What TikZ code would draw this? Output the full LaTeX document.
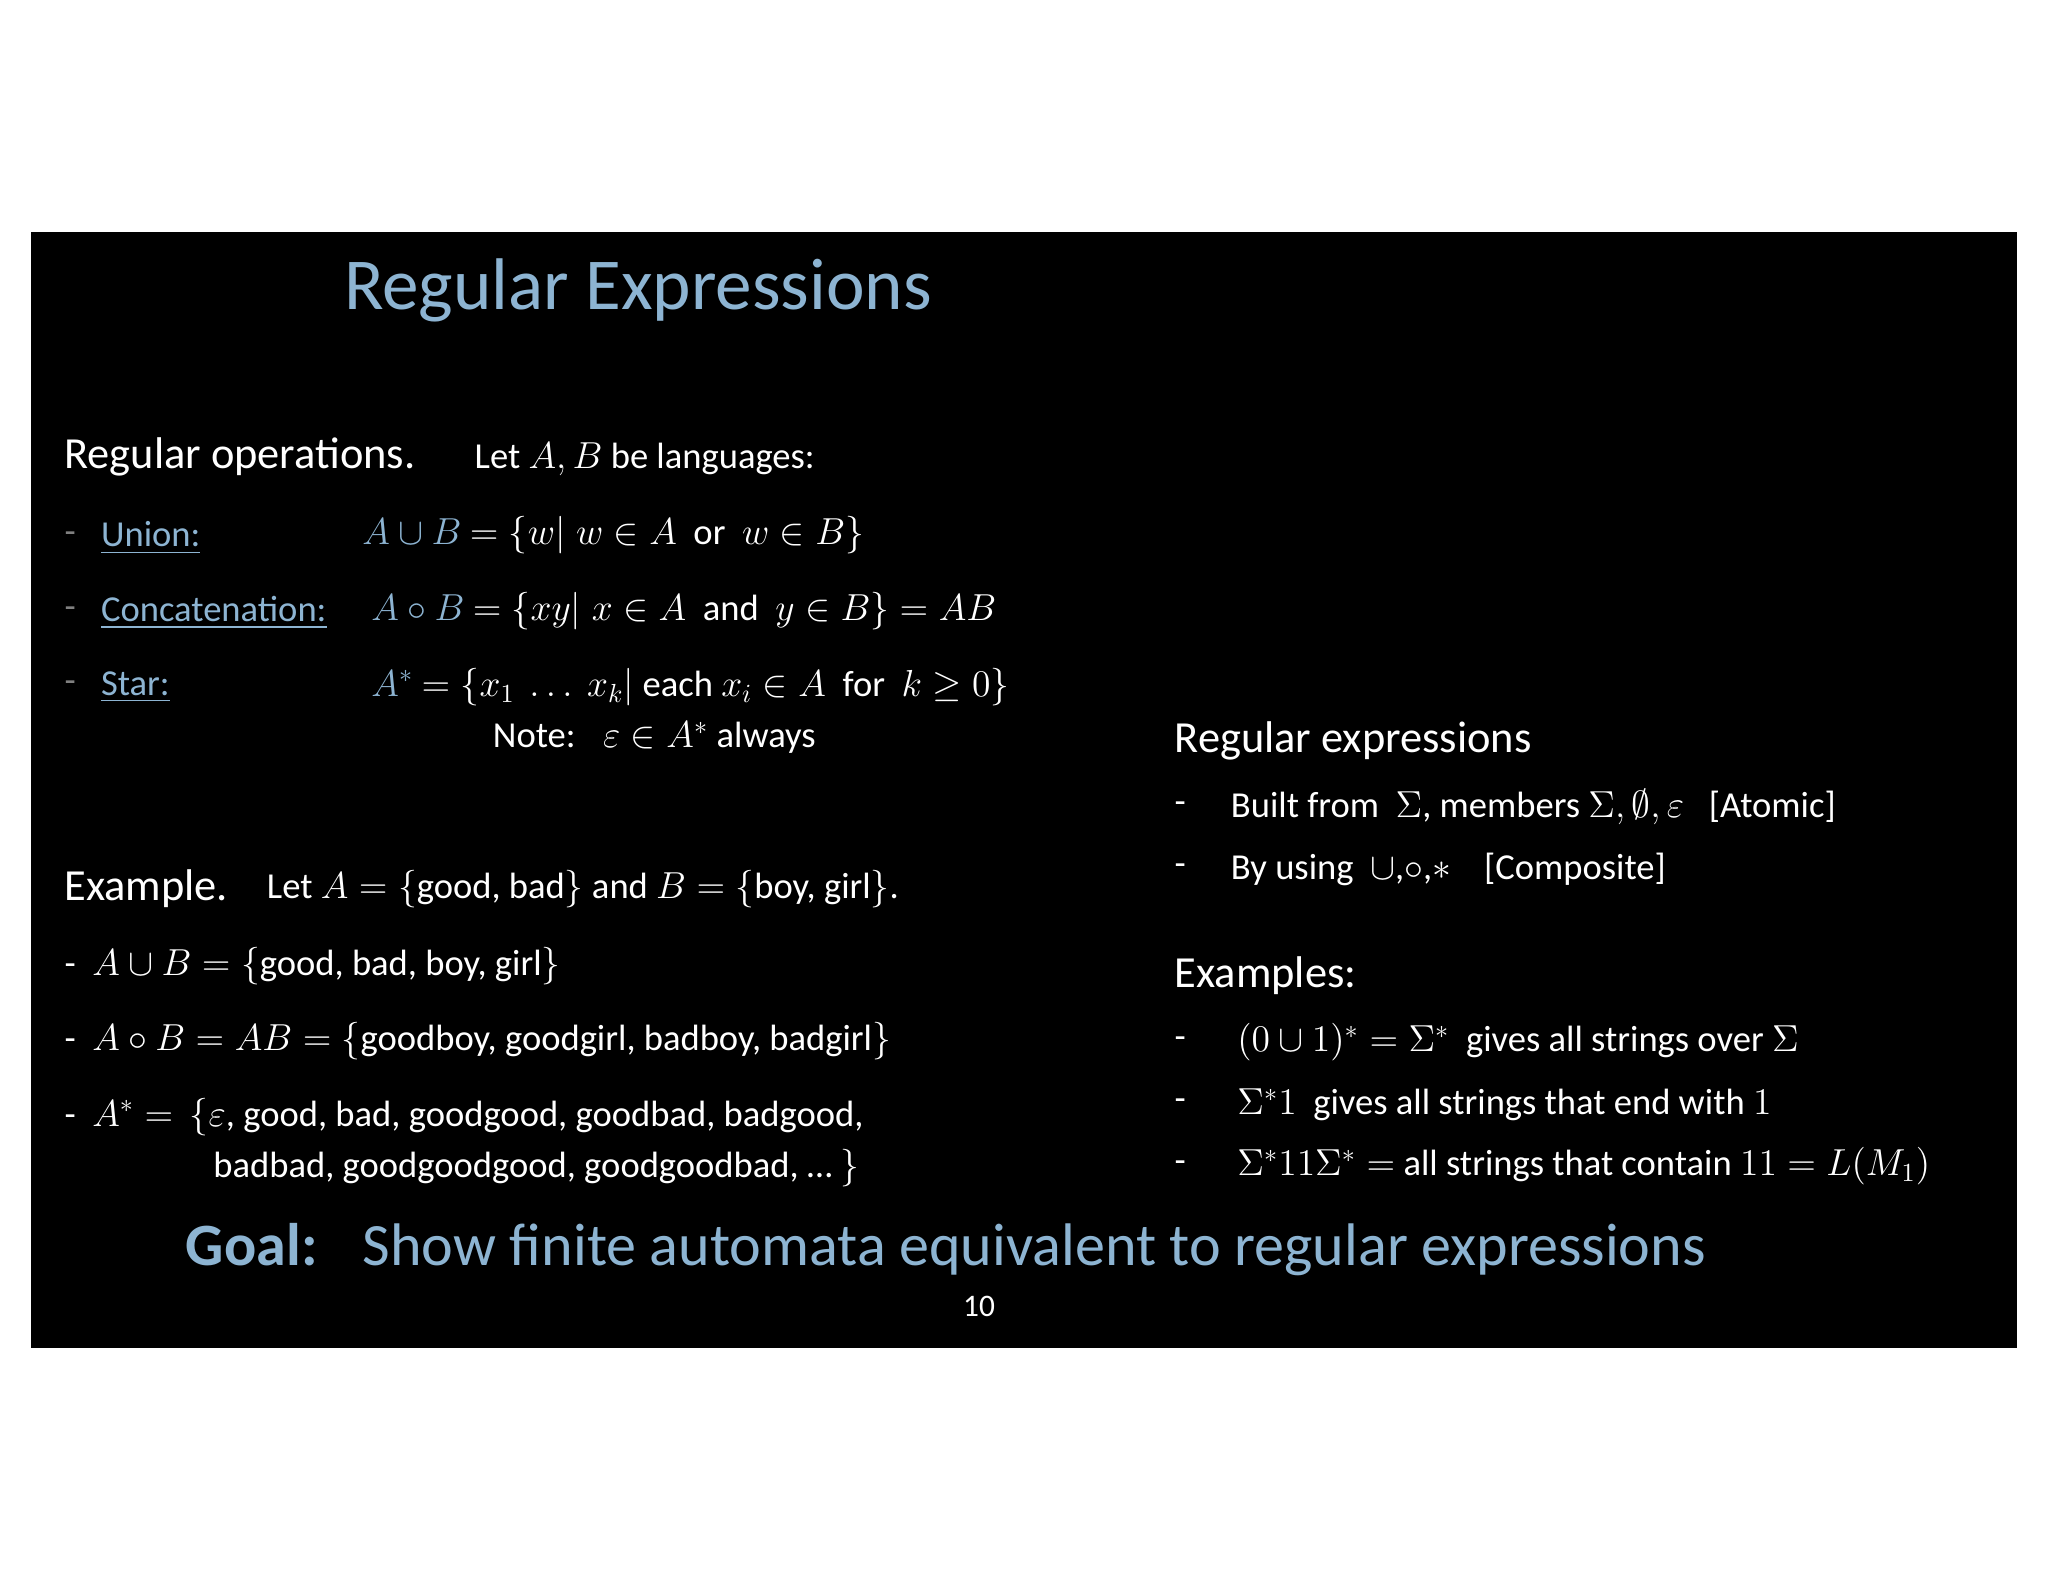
\documentclass[tikz,border=0pt]{standalone}
\usepackage{amsmath,amssymb}
\usepackage{fontspec}
\setmainfont{Carlito}
\definecolor{ttl}{RGB}{141,180,210}
\begin{document}
\begin{tikzpicture}[x=0.5pt,y=-0.5pt,
  txt/.style={anchor=west,text=white,inner sep=0pt,font=\fontsize{14}{16}\selectfont},
  hd/.style={anchor=west,text=white,inner sep=0pt,font=\fontsize{17}{20}\selectfont},
  blu/.style={anchor=west,text=ttl,inner sep=0pt,font=\fontsize{14}{16}\selectfont}]
\useasboundingbox[fill=white] (0,0) rectangle (1568,1211);
\fill[black] (24,178) rectangle (1544,1032);
\node[anchor=west,text=ttl,inner sep=0pt,font=\fontsize{28}{32}\selectfont] (title) at (263,222) {Regular Expressions};
\node[hd] (ro) at (49,350) {Regular operations.};
\node[txt] (rol) at (363,352) {Let $A,B$ be languages:};
\node[txt,text=gray] (d1) at (49,412) {-};
\node[blu] (u) at (77,412) {\underline{Union:}};
\node[blu] (um) at (277,410) {$A\cup B$ \textcolor{white}{$=\{w|\; w\in A$ \ or \ $w\in B\}$}};
\node[txt,text=gray] (d2) at (49,469) {-};
\node[blu] (c) at (77,469) {\underline{Concatenation:}};
\node[blu] (cm) at (284,468) {$A\circ B$ \textcolor{white}{$=\{xy|\; x\in A$ \ and \ $y\in B\}=AB$}};
\node[txt,text=gray] (d3) at (49,526) {-};
\node[blu] (s) at (77,526) {\underline{Star:}};
\node[blu] (sm) at (284,526) {$A^*$ \textcolor{white}{$=\{x_1\ \ldots\ x_k|$ each $x_i\in A$ \ for \ $k\geq 0\}$}};
\node[txt] (note) at (377,565) {Note: \ \ $\varepsilon\in A^*$ always};
\node[hd] (ex) at (49,680) {Example.};
\node[txt] (exl) at (204,681) {Let $A=\{$good, bad$\}$ and $B=\{$boy, girl$\}$.};
\node[txt] (e1) at (49,740) {- \ $A\cup B=\{$good, bad, boy, girl$\}$};
\node[txt] (e2) at (49,797) {- \ $A\circ B=AB=\{$goodboy, goodgirl, badboy, badgirl$\}$};
\node[txt] (e3) at (49,855) {- \ $A^*=$ \ $\{\varepsilon$, good, bad, goodgood, goodbad, badgood,};
\node[txt] (e4) at (163,894) {badbad, goodgoodgood, goodgoodbad, \ldots\ $\}$};
\node[hd] (re) at (899,567) {Regular expressions};
\node[txt] (r1d) at (899,618) {-};
\node[txt] (r1) at (942,618) {Built from \ $\Sigma$, members $\Sigma,\emptyset,\varepsilon$ \ \ [Atomic]};
\node[txt] (r2d) at (899,666) {-};
\node[txt] (r2) at (942,666) {By using \ $\cup$,$\circ$,$*$ \ \ \ [Composite]};
\node[hd] (exs) at (899,747) {Examples:};
\node[txt] (x1d) at (899,798) {-};
\node[txt] (x1) at (947,798) {$(0\cup 1)^*=\Sigma^*$ \ gives all strings over $\Sigma$};
\node[txt] (x2d) at (899,846) {-};
\node[txt] (x2) at (947,846) {$\Sigma^*1$ \ gives all strings that end with $1$};
\node[txt] (x3d) at (899,893) {-};
\node[txt] (x3) at (947,893) {$\Sigma^*11\Sigma^*=$ all strings that contain $11=L(M_1)$};
\node[anchor=west,text=ttl,inner sep=0pt,font=\fontsize{23}{26}\selectfont] (goal) at (142,957) {\textbf{Goal:} \ \ Show finite automata equivalent to regular expressions};
\node[txt,font=\fontsize{12}{14}\selectfont] (pg) at (737,1000) {10};
\end{tikzpicture}
\end{document}
